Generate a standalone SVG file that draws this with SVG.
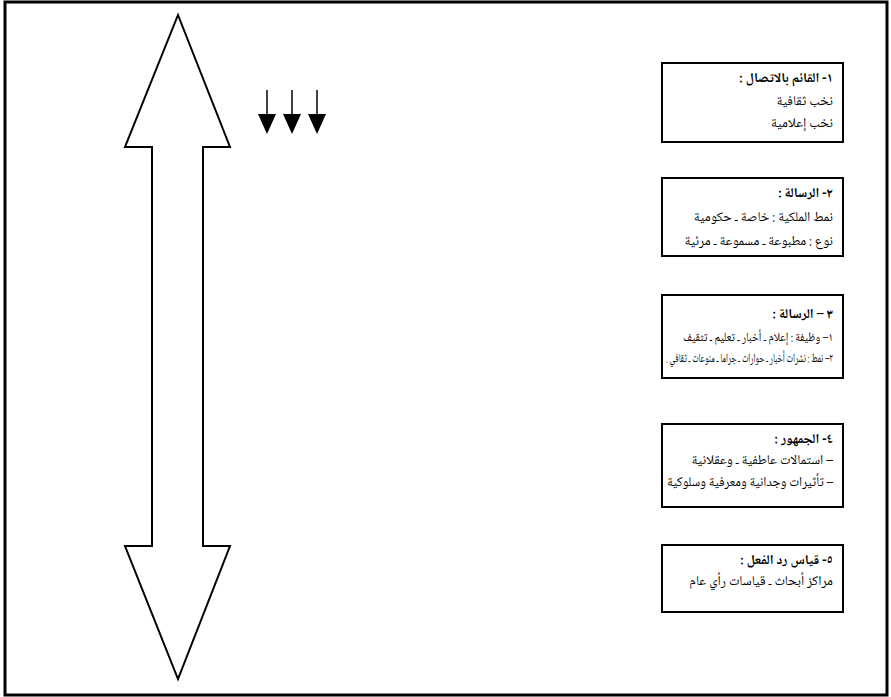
<svg xmlns="http://www.w3.org/2000/svg" width="891" height="697" viewBox="0 0 891 697">
<style>
.frame{fill:#fff;stroke:#000;stroke-width:3}
.shape{fill:#fff;stroke:#000;stroke-width:2;stroke-linejoin:miter}
.box{fill:#fff;stroke:#000;stroke-width:2}
text{font-family:"Noto Naskh Arabic","Noto Sans Arabic","DejaVu Sans",sans-serif;font-size:13.5px;fill:#000;direction:rtl}
.t{font-weight:bold}
.s{font-size:12.5px}
.conn line{stroke:#000;stroke-width:1.5}
</style>
<rect class="frame" x="5" y="2" width="882" height="693"/>
<g id="double-arrow">
<path class="shape" d="M178,15 L230,147 L203,147 L203,546 L230,546 L178,679 L125,546 L152,546 L152,147 L125,147 Z"/>
</g>
<g id="connectors" class="conn">
<line x1="267" y1="90" x2="267" y2="116"/>
<line x1="292" y1="90" x2="292" y2="116"/>
<line x1="317" y1="90" x2="317" y2="116"/>
<path d="M258,114 L276,114 L267,134 Z" fill="#000"/>
<path d="M283,114 L301,114 L292,134 Z" fill="#000"/>
<path d="M308,114 L326,114 L317,134 Z" fill="#000"/>
</g>
<g id="box1">
<rect class="box" x="662" y="63" width="181" height="79"/>
<text class="t" x="833" y="82">١- القائم بالاتصال :</text>
<text x="833" y="105">نخب ثقافية</text>
<text x="833" y="127">نخب إعلامية</text>
</g>
<g id="box2">
<rect class="box" x="662" y="178" width="181" height="78"/>
<text class="t" x="833" y="197">٢- الرسالة :</text>
<text x="833" y="221">نمط الملكية : خاصة ـ حكومية</text>
<text x="833" y="245">نوع : مطبوعة ـ مسموعة ـ مرئية</text>
</g>
<g id="box3">
<rect class="box" x="662" y="295" width="181" height="83"/>
<text class="t" x="833" y="318">٣ – الرسالة :</text>
<text class="s" x="833" y="341" textLength="150" lengthAdjust="spacingAndGlyphs">١– وظيفة : إعلام ـ أخبار ـ تعليم ـ تثقيف</text>
<text class="s" x="833" y="362" textLength="167" lengthAdjust="spacingAndGlyphs">٢– نمط : نشرات أخبار ـ حوارات ـ جراما ـ منوعات ـ ثقافي .</text>
</g>
<g id="box4">
<rect class="box" x="662" y="424" width="181" height="83"/>
<text class="t" x="833" y="443">٤- الجمهور :</text>
<text x="833" y="464">– استمالات عاطفية ـ وعقلانية</text>
<text x="833" y="486" textLength="166" lengthAdjust="spacingAndGlyphs">– تأثيرات وجدانية ومعرفية وسلوكية</text>
</g>
<g id="box5">
<rect class="box" x="662" y="545" width="181" height="67"/>
<text class="t" x="833" y="564">٥- قياس رد الفعل :</text>
<text x="833" y="585">مراكز أبحاث ـ قياسات رأي عام</text>
</g>
</svg>
